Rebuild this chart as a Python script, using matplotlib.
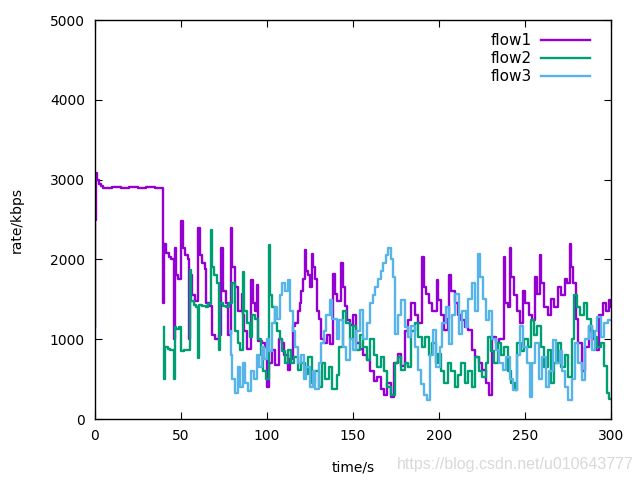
"""
Rate of three flows over time (gnuplot-style chart)
"""

import matplotlib
matplotlib.use('Agg')
import matplotlib.pyplot as plt


# -----
# Data (step knots): time [s], rate [kbps]

flow1_t = [0, 0.3, 0.6, 1.5, 2.5, 3.5, 5, 10, 15, 20, 25, 30, 35, 39.8,
           40.2, 41.5, 43, 44.5, 46, 46.4, 47, 48.5, 50.3, 51,
           52.5, 54, 55, 55.4, 56.5, 58, 60, 61, 62.5, 64,
           64.8, 66.5, 68, 70, 72, 73.5, 74.5, 76, 77.5, 79,
           80, 81.5, 83, 85.3, 86, 87, 88.5, 91, 92, 93,
           94, 95, 97, 99, 100, 101.5, 103, 105, 107, 108.5,
           110, 112, 113.5, 115, 116.5, 118, 119, 120, 121, 122,
           123, 124, 125, 126, 127, 128, 129, 130, 131.5, 133,
           135, 136.5, 138.6, 139.5, 141, 143, 144, 145.5, 146.5, 148,
           150, 152, 154, 156, 158, 160, 162, 164, 166, 168,
           170, 172, 174, 176, 178, 180, 182, 184, 186, 188,
           190, 191, 192.5, 194, 196, 198.6, 199.5, 201, 203, 205,
           206, 207, 209, 211, 213, 215, 217, 219, 221, 223,
           225, 227, 229, 231, 233, 235, 237.5, 238.5, 240, 241,
           242, 243.5, 245, 247, 249, 250, 252, 254, 256, 257,
           258.7, 259.5, 261, 263, 265, 267, 269, 271, 273, 274.5,
           275.9, 276.8, 278, 279.5, 281, 283, 285, 287, 289, 291,
           293, 295, 297, 299, 300]
flow1_v = [1150, 2500, 3080, 3000, 2950, 2920, 2900, 2910, 2900, 2910, 2900, 2905, 2900, 1450,
           2200, 2080, 2030, 2000, 1000, 2150, 1800, 1750, 2480, 2150,
           2050, 2000, 1000, 1800, 1550, 1480, 2390, 2050, 1950, 1880,
           1450, 1420, 1050, 1000, 1050, 2150, 1600, 1450, 1050, 2390,
           1900, 1650, 1350, 1570, 1300, 1100, 880, 1740, 1450, 1360,
           1680, 980, 950, 900, 400, 700, 860, 680, 1000, 950,
           800, 620, 750, 1160, 1200, 1360, 1450, 1600, 1750, 2120,
           1850, 1800, 1650, 2070, 1900, 1750, 1360, 1250, 1000, 950,
           1050, 940, 1820, 1570, 1480, 1950, 1650, 1420, 1240, 1180,
           1300, 950, 880, 800, 740, 600, 480, 530, 380, 300,
           450, 280, 700, 820, 660, 1100, 1240, 1450, 1300, 1200,
           2030, 1650, 1570, 1450, 1350, 1740, 1490, 1300, 1110, 1250,
           1800, 1600, 1450, 1300, 1240, 1150, 1110, 860, 780, 700,
           610, 450, 300, 1030, 950, 1000, 2030, 1450, 1400, 2150,
           1780, 1550, 1360, 1200, 1610, 1450, 1300, 1240, 1780, 1570,
           2050, 1700, 1400, 1300, 1500, 1400, 1650, 1550, 1750, 1700,
           2200, 1900, 1700, 1250, 950, 600, 900, 1160, 1000, 870,
           1300, 1450, 1350, 1490, 1400]

flow2_t = [40, 40.3, 40.8, 42.5, 44, 46, 46.4, 47.5, 49, 50.2,
           52, 54, 55.2, 55.8, 57.5, 59, 60, 60.5, 62.5, 64.5,
           66, 67.5, 68.3, 69.5, 71, 72.3, 72.8, 74.5, 76.5, 78,
           80, 81.5, 83, 84.5, 86, 87, 88.5, 90, 91.5, 93,
           95, 96.5, 98, 99.5, 101.3, 102, 103, 104.5, 106, 107.5,
           109, 110.5, 112.5, 114, 116, 118, 120, 122, 124, 126,
           128, 130, 132, 134, 136, 138, 140.5, 142, 144, 146,
           148, 150, 152, 154, 156, 158, 160, 162, 164, 166,
           168, 170, 172, 174.4, 176, 178, 180, 182, 184, 186,
           188, 190, 192, 194, 196, 198, 199.6, 201, 203, 205,
           207, 209, 211, 213, 215, 217, 219, 221, 223, 225,
           227, 228.5, 230, 232, 234, 236, 238, 240, 242, 244,
           245.5, 247.5, 249.5, 251.5, 253.5, 255, 257, 259, 261, 263,
           265, 267, 269, 271, 273, 275, 277, 278.5, 280, 282,
           284, 286, 288, 290, 292, 294, 296, 297.5, 299, 300]
flow2_v = [1150, 500, 900, 880, 870, 500, 1150, 1130, 1150, 850,
           860, 870, 1870, 1480, 1430, 1400, 770, 1430, 1420, 1400,
           1440, 2370, 1900, 1800, 1700, 860, 1450, 1420, 1400, 1450,
           1700, 1100, 950, 860, 1840, 1360, 1200, 1030, 1300, 1250,
           1000, 800, 600, 500, 2180, 1550, 1400, 1200, 1100, 1000,
           850, 700, 860, 700, 780, 610, 700, 560, 780, 450,
           600, 400, 700, 500, 650, 380, 550, 900, 1360, 1200,
           1000, 1160, 870, 1050, 900, 740, 1000, 800, 650, 780,
           600, 400, 300, 700, 780, 610, 700, 650, 1100, 1200,
           1030, 900, 1030, 800, 950, 700, 820, 600, 450, 700,
           600, 400, 550, 700, 450, 600, 400, 780, 600, 530,
           700, 1030, 850, 700, 950, 800, 900, 600, 450, 360,
           950, 850, 1000, 900, 1240, 1050, 1160, 900, 650, 870,
           450, 700, 950, 650, 800, 530, 1000, 1550, 1400, 1300,
           1450, 1250, 1100, 1030, 900, 950, 660, 330, 250, 250]

flow3_t = [78.5, 79.2, 80, 81.5, 83, 84.5, 86, 87.5, 89, 91,
           92.5, 94, 95.5, 97, 98.5, 100, 101.5, 103, 104.5, 106,
           107.5, 109, 110.5, 112, 113.5, 115, 116.5, 118, 120, 121.5,
           123, 125, 126.5, 128, 130, 131.5, 133, 134.5, 136.6, 138,
           140.5, 142, 144, 146, 148, 150, 152, 154, 156, 158,
           160, 161.5, 163, 164.5, 166, 167.5, 169, 170.5, 172, 173.5,
           174.2, 176, 178, 180, 182, 184, 186, 188, 189.5, 191,
           193, 194.5, 196.5, 198.5, 200.5, 202, 204, 206, 207.5, 209.5,
           211.5, 213.5, 215.5, 217, 219, 221, 222.5, 224, 225.5, 227,
           229, 231, 233, 235, 237, 239, 241, 243, 245, 247,
           249, 251, 253, 254, 256, 258, 260, 262, 264, 266,
           268, 270, 271.5, 273, 275, 277, 279, 281, 283, 285,
           287, 289, 290.5, 292, 294, 296, 298, 300]
flow3_v = [1100, 800, 500, 330, 650, 400, 700, 450, 350, 600,
           500, 800, 650, 900, 750, 1000, 850, 1200, 1400, 1250,
           1550, 1700, 1600, 1740, 1350, 1100, 900, 700, 800, 500,
           650, 400, 600, 380, 700, 950, 1100, 1300, 1490, 1250,
           1000, 1240, 900, 740, 1000, 860, 1100, 1370, 1000, 1200,
           1450, 1550, 1650, 1750, 1850, 1950, 2050, 2150, 2000, 1780,
           1070, 1300, 1490, 1150, 1030, 1160, 900, 610, 440, 300,
           240, 800, 1110, 650, 900, 1200, 1410, 940, 1300, 1570,
           1070, 1350, 1150, 1500, 1700, 1360, 2070, 1780, 1500, 1240,
           1360, 1000, 860, 700, 610, 780, 500, 360, 800, 1160,
           900, 700, 280, 700, 950, 500, 780, 400, 600, 990,
           700, 850, 600, 400, 240, 500, 950, 700, 490, 1000,
           1160, 870, 1100, 1280, 1030, 1200, 1240, 1240]

labels = ['flow1', 'flow2', 'flow3']
colors = ['#9400D3', '#009E73', '#56B4E9']

xticks = [0, 50, 100, 150, 200, 250, 300]
yticks = [0, 1000, 2000, 3000, 4000, 5000]


# -----
# Plot

plt.rcParams['font.family'] = 'DejaVu Sans'
plt.rcParams['font.size'] = 10

fig = plt.figure(figsize=(6.4, 4.8), dpi=100)
ax = fig.add_axes([0.148, 0.127, 0.807, 0.831])

series = [(flow1_t, flow1_v), (flow2_t, flow2_v), (flow3_t, flow3_v)]
for (t, v), lab, col in zip(series, labels, colors):
    ax.step(t, v, where='post', color=col, lw=1.7, label=lab)

ax.set_xlim(0, 300)
ax.set_ylim(0, 5000)
ax.set_xticks(xticks)
ax.set_yticks(yticks)
ax.tick_params(direction='in', top=True, right=True, length=5, width=0.8, pad=7)
for s in ax.spines.values():
    s.set_linewidth(1.0)

ax.set_xlabel('time/s', labelpad=13)
ax.set_ylabel('rate/kbps', labelpad=19)

ax.legend(loc='upper right', bbox_to_anchor=(0.979, 0.995), frameon=False,
          markerfirst=False, handlelength=3.2, handletextpad=0.6,
          labelspacing=0.2, borderaxespad=0.3, fontsize=11)

# blog watermark in the corner of the source image
fig.text(0.62, 0.022, 'https://blog.csdn.net/u010643777', color='#d9d9d9',
         fontsize=11.5, family='Liberation Sans')

fig.savefig('out.png', dpi=100)
